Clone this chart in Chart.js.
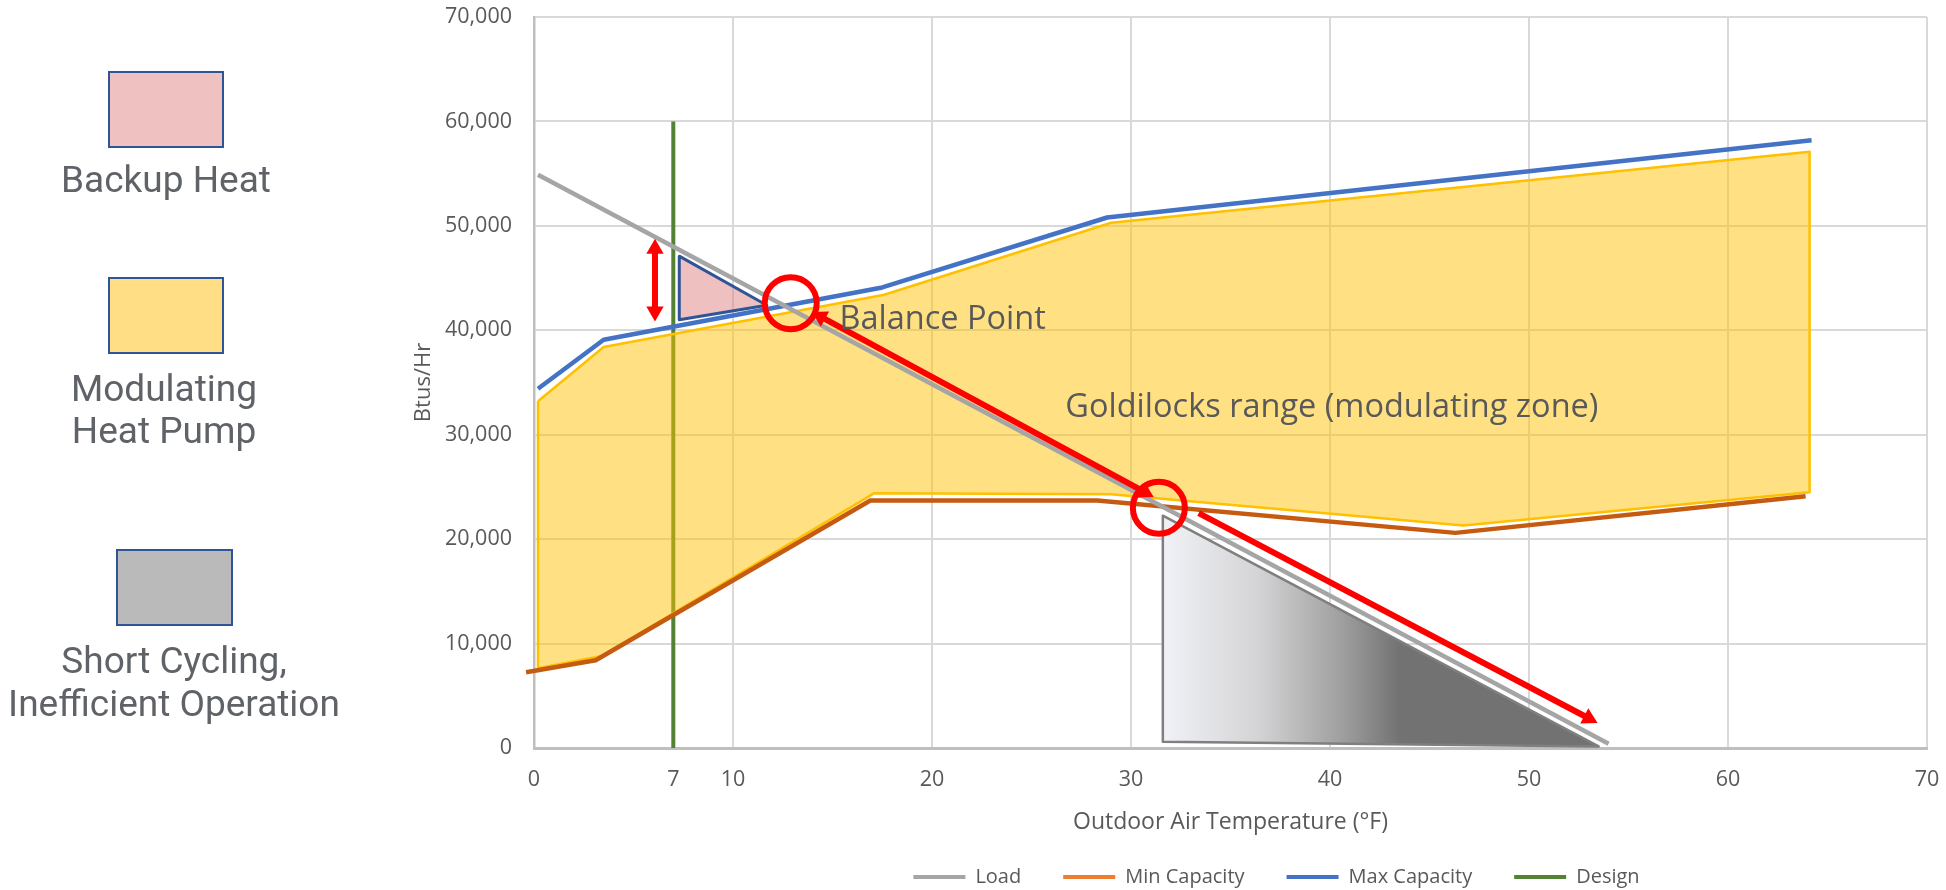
<!DOCTYPE html>
<html>
<head>
<meta charset="utf-8">
<title>Heat pump capacity vs. load</title>
<script src="https://cdn.jsdelivr.net/npm/chart.js@4.4.1/dist/chart.umd.min.js"></script>
<style>
    html, body { margin: 0; padding: 0; background: #fff; overflow: hidden; }
    #wrap { position: relative; width: 1946px; height: 890px; }
    #wrap canvas { position: absolute; left: 0; top: 0; }
    .key { position: absolute; box-sizing: border-box; border: 2px solid #2F5597; }
    .key-label {
        position: absolute; width: 400px; text-align: center;
        font-family: Roboto, sans-serif; font-size: 37px; line-height: 42px; color: #5F6368;
    }
</style>
</head>
<body>
<div id="wrap">
    <canvas id="capacity-chart" width="1946" height="890"></canvas>

    <div class="key" style="left:108px; top:71px; width:116px; height:77px; background:#EFC1C1"></div>
    <div class="key-label" style="left:-34px; top:159px">Backup Heat</div>

    <div class="key" style="left:108px; top:277px; width:116px; height:77px; background:#FFDE85"></div>
    <div class="key-label" style="left:-36px; top:368px">Modulating<br>Heat Pump</div>

    <div class="key" style="left:116px; top:549px; width:117px; height:77px; background:#BABABA"></div>
    <div class="key-label" style="left:-26px; top:639px; line-height:43px">Short Cycling,<br>Inefficient Operation</div>
</div>
<script>
// outdoor temperature in °F against Btu/hr
const loadTemps = [0.2, 54];
const loadBtu = [54900, 400];

const minCapTemps = [-0.4, 3.1, 16.9, 28.3, 46.3, 63.9];
const minCapBtu = [7250, 8400, 23700, 23700, 20600, 24100];

const maxCapTemps = [0.2, 3.5, 17.5, 28.8, 64.2];
const maxCapBtu = [34400, 39100, 44100, 50800, 58200];

const designTemps = [7, 7];
const designBtu = [0, 60000];

// modulating zone outline, top edge left to right then bottom edge back
const zoneTemps = [0.2, 3.5, 17.6, 29.0, 64.1, 64.1, 46.7, 29.0, 17.1, 3.4, 0.2, 0.2];
const zoneBtu = [33200, 38400, 43400, 50300, 57100, 24500, 21300, 24300, 24400, 8800, 7650, 33200];

const backupTemps = [7.3, 7.3, 11.7, 7.3];
const backupBtu = [47100, 41000, 42400, 47100];

const cyclingTemps = [31.6, 31.6, 53.5, 31.6];
const cyclingBtu = [22250, 600, 150, 22250];

// balance point markers and arrows
const circleTemps = [12.9, 31.4];
const circleBtu = [42600, 23000];

const gapArrowTemps = [6.08, 6.08];
const gapArrowBtu = [47800, 41800];

const balanceArrowTemps = [14.4, 30.7];
const balanceArrowBtu = [41300, 24500];

const cyclingArrowTemps = [33.4, 53.0];
const cyclingArrowBtu = [22500, 2850];

const noteTexts = ['Balance Point', 'Goldilocks range (modulating zone)'];
const noteTemps = [15.35, 26.7];
const noteBtu = [41050, 32550];

const xTicks = [0, 7, 10, 20, 30, 40, 50, 60, 70];
const yTicks = [0, 10000, 20000, 30000, 40000, 50000, 60000, 70000];

const PLOT_BOTTOM = 748;
const GRID = '#D9D9D9';
const TEXT = '#595959';
const RED = '#FF0000';
const CLEAR = 'rgba(0,0,0,0)';

Chart.defaults.font.family = '"Open Sans", sans-serif';
Chart.defaults.color = TEXT;

const pts = (xs, ys) => xs.map((x, i) => ({ x, y: ys[i] }));

// turn each arrow head so it points away from the other end of its shaft
function arrowRotation(ctx) {
    if (ctx.dataIndex === undefined) {
        return 0;
    }
    const data = ctx.dataset.data;
    const here = data[ctx.dataIndex];
    const other = data[ctx.dataIndex === 0 ? 1 : 0];
    const { x, y } = ctx.chart.scales;
    const dx = x.getPixelForValue(here.x) - x.getPixelForValue(other.x);
    const dy = y.getPixelForValue(here.y) - y.getPixelForValue(other.y);
    return Math.atan2(dx, -dy) * 180 / Math.PI;
}

function arrow(xs, ys, heads) {
    return {
        data: pts(xs, ys),
        borderColor: RED,
        borderWidth: 6,
        pointStyle: 'triangle',
        pointRadius: heads,
        pointHoverRadius: heads,
        pointBackgroundColor: RED,
        pointBorderWidth: 0,
        pointRotation: arrowRotation
    };
}

function cyclingGradient(ctx) {
    const chart = ctx.chart;
    if (!chart.chartArea) {
        return '#BABABA';
    }
    const x = chart.scales.x;
    const g = chart.ctx.createLinearGradient(x.getPixelForValue(cyclingTemps[0]), 0, x.getPixelForValue(43.5), 0);
    g.addColorStop(0, '#F1F2F7');
    g.addColorStop(0.4, '#D4D4D6');
    g.addColorStop(0.75, '#A0A0A0');
    g.addColorStop(1, '#727272');
    return g;
}

const chartText = {
    id: 'chart-text',
    afterLayout(chart) {
        // legend row sits a bit right of the plot centre and slightly lower
        const legend = chart.legend;
        const area = chart.chartArea;
        const dx = (area.left + area.right) / 2 + 46 - (legend.left + legend.right) / 2;
        legend.left += dx;
        legend.right += dx;
        legend.top += 7;
        legend.bottom += 7;
    },
    afterDatasetsDraw(chart) {
        const { ctx, scales: { x, y } } = chart;
        ctx.save();
        ctx.font = '32.5px "Open Sans"';
        ctx.fillStyle = TEXT;
        ctx.textBaseline = 'middle';
        noteTexts.forEach((t, i) => {
            ctx.fillText(t, x.getPixelForValue(noteTemps[i]), y.getPixelForValue(noteBtu[i]));
        });
        ctx.restore();
    }
};

new Chart(document.getElementById('capacity-chart'), {
    type: 'line',
    data: {
        datasets: [
            {
                data: pts(circleTemps, circleBtu),
                showLine: false,
                pointStyle: 'circle',
                pointRadius: 26,
                pointHoverRadius: 26,
                pointBorderWidth: 6,
                pointHoverBorderWidth: 6,
                pointBorderColor: RED,
                pointBackgroundColor: CLEAR
            },
            arrow(gapArrowTemps, gapArrowBtu, [10, 10]),
            arrow(balanceArrowTemps, balanceArrowBtu, [10, 10]),
            arrow(cyclingArrowTemps, cyclingArrowBtu, [0, 10]),
            {
                label: 'Load',
                data: pts(loadTemps, loadBtu),
                borderColor: '#A5A5A5',
                borderWidth: 4.5
            },
            {
                label: 'Min Capacity',
                data: pts(minCapTemps, minCapBtu),
                borderColor: '#C55A11',
                legendColor: '#ED7D31',
                borderWidth: 4.5,
                clip: false
            },
            {
                label: 'Max Capacity',
                data: pts(maxCapTemps, maxCapBtu),
                borderColor: '#4472C4',
                borderWidth: 4.5
            },
            {
                data: pts(backupTemps, backupBtu),
                borderColor: '#2F5597',
                borderWidth: 3,
                backgroundColor: 'rgba(224,130,130,0.5)',
                fill: 'shape'
            },
            {
                data: pts(cyclingTemps, cyclingBtu),
                borderColor: '#7F7F7F',
                borderWidth: 2.5,
                backgroundColor: cyclingGradient,
                fill: 'shape'
            },
            {
                data: pts(zoneTemps, zoneBtu),
                borderColor: '#FFC000',
                borderWidth: 2.5,
                backgroundColor: 'rgba(255,192,0,0.49)',
                fill: 'shape'
            },
            {
                label: 'Design',
                data: pts(designTemps, designBtu),
                borderColor: '#548235',
                borderWidth: 4
            }
        ]
    },
    options: {
        responsive: false,
        animation: false,
        events: [],
        layout: {
            autoPadding: false,
            padding: { left: 400, right: 19, top: 17, bottom: 0 }
        },
        elements: {
            point: { radius: 0, hoverRadius: 0 },
            line: { tension: 0, borderJoinStyle: 'round' }
        },
        scales: {
            x: {
                type: 'linear',
                min: 0,
                max: 70,
                afterBuildTicks: scale => { scale.ticks = xTicks.map(value => ({ value })); },
                afterFit(scale) {
                    const legendHeight = scale.chart.legend ? scale.chart.legend.height : 0;
                    scale.height = scale.chart.height - PLOT_BOTTOM - legendHeight;
                },
                // invisible tick marks keep the labels clear of the axis
                grid: {
                    color: ctx => (ctx.tick && ctx.tick.value === 7 ? CLEAR : GRID),
                    lineWidth: 2,
                    drawTicks: true,
                    tickLength: 19,
                    tickColor: CLEAR
                },
                border: { color: '#BFBFBF', width: 3 },
                ticks: {
                    autoSkip: false,
                    padding: 0,
                    font: { size: 21.5 },
                    color: TEXT,
                    callback: v => String(v)
                },
                title: {
                    display: true,
                    text: 'Outdoor Air Temperature (°F)',
                    font: { size: 23 },
                    color: TEXT,
                    padding: { top: 0, bottom: -18 }
                }
            },
            y: {
                min: 0,
                max: 70000,
                afterBuildTicks: scale => { scale.ticks = yTicks.map(value => ({ value })); },
                afterFit: scale => { scale.width = 134; },
                grid: {
                    color: GRID,
                    lineWidth: 2,
                    drawTicks: true,
                    tickLength: 22,
                    tickColor: CLEAR
                },
                border: { color: '#BFBFBF', width: 2.5 },
                ticks: {
                    padding: 0,
                    font: { size: 21.5 },
                    color: TEXT,
                    callback: v => v.toLocaleString('en-US')
                },
                title: {
                    display: true,
                    text: 'Btus/Hr',
                    font: { size: 22 },
                    color: TEXT,
                    padding: { top: 11, bottom: 0 }
                }
            }
        },
        plugins: {
            tooltip: { enabled: false },
            legend: {
                position: 'bottom',
                labels: {
                    boxWidth: 52,
                    boxHeight: 4,
                    padding: 42,
                    color: TEXT,
                    font: { size: 20 },
                    generateLabels: chart => chart.data.datasets
                        .map((ds, i) => ({ ds, i }))
                        .filter(({ ds }) => ds.label)
                        .map(({ ds, i }) => ({
                            text: ds.label,
                            fillStyle: ds.legendColor || ds.borderColor,
                            strokeStyle: ds.legendColor || ds.borderColor,
                            lineWidth: 0,
                            fontColor: TEXT,
                            hidden: false,
                            datasetIndex: i
                        }))
                }
            }
        }
    },
    plugins: [chartText]
});
</script>
</body>
</html>
